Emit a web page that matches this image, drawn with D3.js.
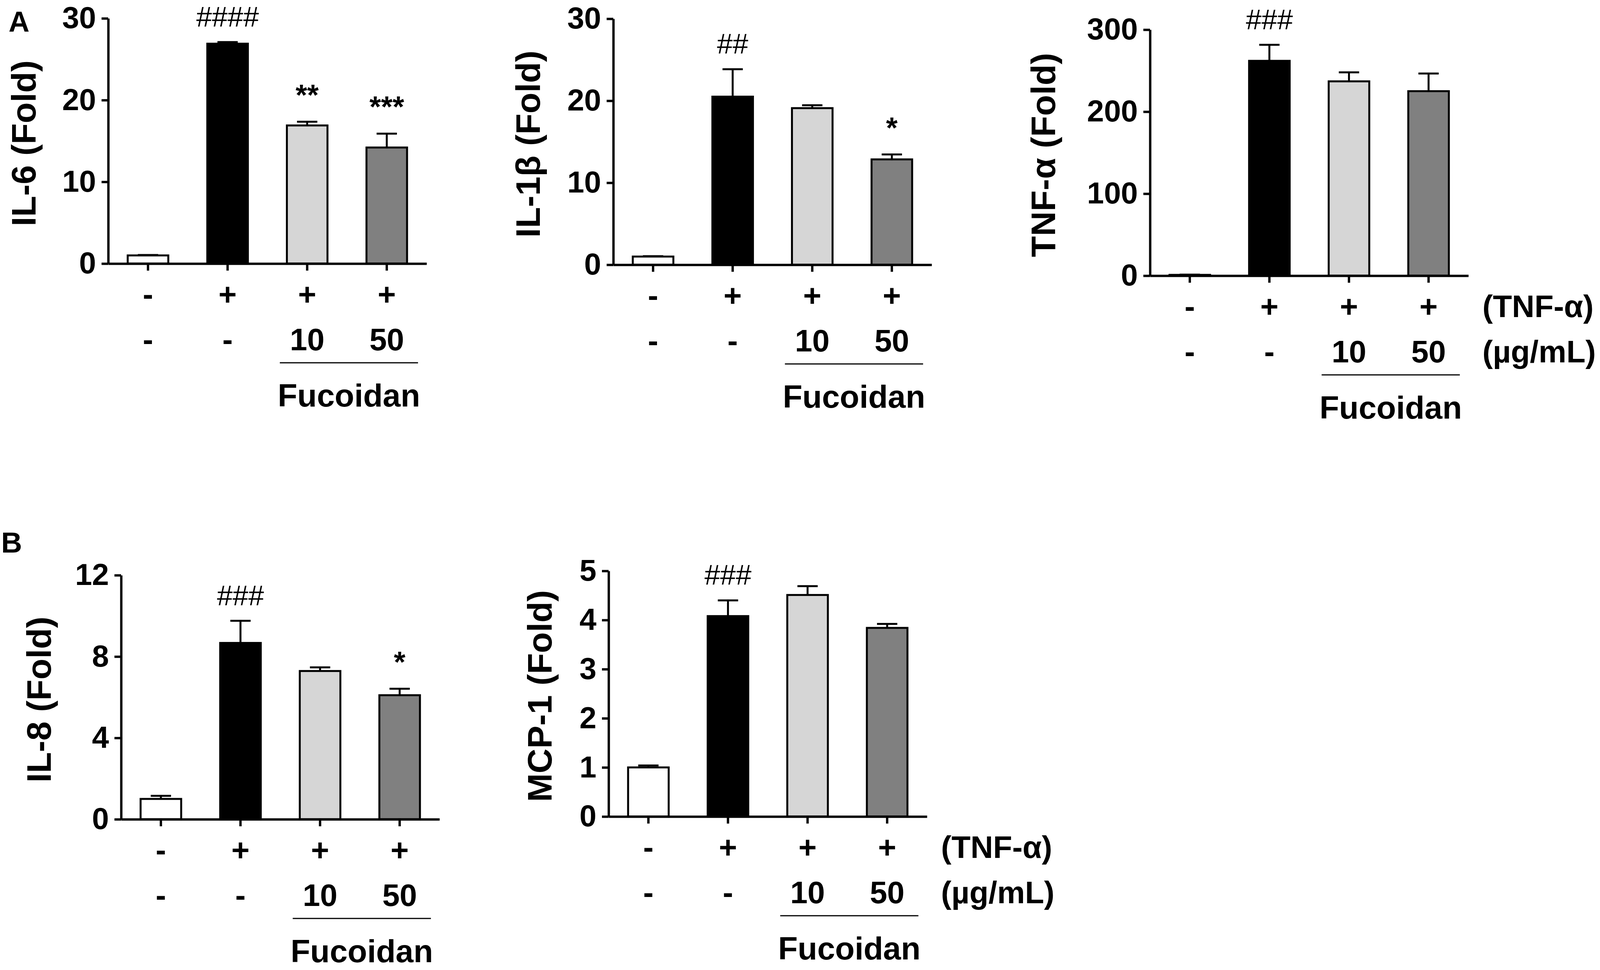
<!DOCTYPE html>
<html>
<head>
<meta charset="utf-8">
<script src="https://cdn.jsdelivr.net/npm/d3@7"></script>
<style>
  body { margin: 0; background: #fff; }
  svg { display: block; }
  text { font-family: "Liberation Sans", Arial, sans-serif; }
</style>
</head>
<body>
<div id="chart"></div>
<script>
// groups on the x axis
var groups = ["ctrl", "tnf", "fuco10", "fuco50"];
var row1Labels = ["-", "+", "+", "+"];
var row2Labels = ["-", "-", "10", "50"];

// mean and upper error (SEM)
var il6Mean = [1.0, 26.9, 16.9, 14.2];
var il6Err  = [0.05, 0.2, 0.45, 1.7];
var il6Sig  = ["", "####", "**", "***"];

var il1bMean = [1.0, 20.5, 19.1, 12.85];
var il1bErr  = [0.05, 3.35, 0.35, 0.6];
var il1bSig  = ["", "##", "", "*"];

var tnfMean = [1.0, 262, 237, 225];
var tnfErr  = [0.3, 19.5, 11, 21.5];
var tnfSig  = ["", "###", "", ""];

var il8Mean = [1.0, 8.67, 7.29, 6.1];
var il8Err  = [0.15, 1.09, 0.18, 0.32];
var il8Sig  = ["", "###", "", "*"];

var mcp1Mean = [1.0, 4.08, 4.51, 3.84];
var mcp1Err  = [0.04, 0.32, 0.18, 0.08];
var mcp1Sig  = ["", "###", "", ""];

var ticks30  = [0, 10, 20, 30];
var ticks300 = [0, 100, 200, 300];
var ticks12  = [0, 4, 8, 12];
var ticks5   = [0, 1, 2, 3, 4, 5];

var fills = ["#ffffff", "#000000", "#d6d6d6", "#808080"];

// layout of each panel (pixels)
var panels = [
  {title: "IL-6 (Fold)",  mean: il6Mean,  err: il6Err,  sig: il6Sig,  ticks: ticks30,
   x0: 277, y0: 675, yTop: 47, labelX: 59, units: false},
  {title: "IL-1\u03b2 (Fold)", mean: il1bMean, err: il1bErr, sig: il1bSig, ticks: ticks30,
   x0: 1570, y0: 678, yTop: 48, labelX: 1350, units: false},
  {title: "TNF-\u03b1 (Fold)", mean: tnfMean, err: tnfErr, sig: tnfSig, ticks: ticks300,
   x0: 2944, y0: 706, yTop: 76, labelX: 2669, units: true},
  {title: "IL-8 (Fold)",  mean: il8Mean,  err: il8Err,  sig: il8Sig,  ticks: ticks12,
   x0: 310, y0: 2098, yTop: 1473, labelX: 98, units: false},
  {title: "MCP-1 (Fold)", mean: mcp1Mean, err: mcp1Err, sig: mcp1Sig, ticks: ticks5,
   x0: 1558, y0: 2091, yTop: 1462, labelX: 1380, units: true}
];

var W = 4106, H = 2484, plotW = 815;
var bold = "bold";

var svg = d3.select("#chart").append("svg").attr("width", W).attr("height", H);
svg.append("rect").attr("width", W).attr("height", H).attr("fill", "#fff");

// panel letters
svg.append("text").attr("x", 22).attr("y", 81).attr("font-size", 74).attr("font-weight", bold).text("A");
svg.append("text").attr("x", 3).attr("y", 1415).attr("font-size", 74).attr("font-weight", bold).text("B");

panels.forEach(function(p) {
  var g = svg.append("g");
  var yMax = p.ticks[p.ticks.length - 1];
  var y = d3.scaleLinear().domain([0, yMax]).range([p.y0, p.yTop]);
  var x = d3.scaleBand().domain(groups).range([p.x0, p.x0 + plotW])
            .paddingInner(0.49).paddingOuter(0.245);
  var bw = x.bandwidth();
  var data = groups.map(function(k, i) {
    return {key: k, mean: p.mean[i], err: p.err[i], sig: p.sig[i], fill: fills[i],
            r1: row1Labels[i], r2: row2Labels[i]};
  });

  // bars
  g.selectAll("rect.bar").data(data).enter().append("rect")
    .attr("class", "bar")
    .attr("x", function(d) { return x(d.key); })
    .attr("y", function(d) { return y(d.mean); })
    .attr("width", bw)
    .attr("height", function(d) { return p.y0 - y(d.mean); })
    .attr("fill", function(d) { return d.fill; })
    .attr("stroke", "#000").attr("stroke-width", 5);

  // error bars (upper only)
  var eb = g.selectAll("g.err").data(data).enter().append("g").attr("class", "err");
  eb.append("line")
    .attr("x1", function(d) { return x(d.key) + bw / 2; })
    .attr("x2", function(d) { return x(d.key) + bw / 2; })
    .attr("y1", function(d) { return y(d.mean); })
    .attr("y2", function(d) { return y(d.mean + d.err); })
    .attr("stroke", "#000").attr("stroke-width", 5);
  eb.append("line")
    .attr("x1", function(d) { return x(d.key) + bw / 2 - 26; })
    .attr("x2", function(d) { return x(d.key) + bw / 2 + 26; })
    .attr("y1", function(d) { return y(d.mean + d.err); })
    .attr("y2", function(d) { return y(d.mean + d.err); })
    .attr("stroke", "#000").attr("stroke-width", 5);

  // significance marks
  g.selectAll("text.sig").data(data.filter(function(d) { return d.sig !== ""; })).enter()
    .append("text").attr("class", "sig")
    .attr("x", function(d) { return x(d.key) + bw / 2; })
    .attr("y", function(d) { return y(d.mean + d.err) - (d.sig.charAt(0) === "#" ? 40 : 43); })
    .attr("text-anchor", "middle")
    .attr("font-size", function(d) { return d.sig.charAt(0) === "#" ? 72 : 76; })
    .attr("font-weight", function(d) { return d.sig.charAt(0) === "#" ? "normal" : bold; })
    .text(function(d) { return d.sig; });

  // y axis
  var yAxis = g.append("g").attr("transform", "translate(" + p.x0 + ",0)")
    .call(d3.axisLeft(y).tickValues(p.ticks).tickFormat(d3.format("d"))
      .tickSize(17).tickSizeOuter(0).tickPadding(14));
  // x axis (ticks only)
  var xAxis = g.append("g").attr("transform", "translate(0," + p.y0 + ")")
    .call(d3.axisBottom(x).tickSize(18).tickSizeOuter(0).tickFormat(function() { return ""; }));
  [yAxis, xAxis].forEach(function(a) {
    a.selectAll("path, line").attr("stroke", "#000").attr("stroke-width", 6);
  });
  yAxis.selectAll("text").attr("font-size", 78).attr("font-weight", bold)
    .attr("fill", "#000").attr("font-family", "Liberation Sans, Arial, sans-serif");

  // y label
  g.append("text")
    .attr("transform", "translate(" + p.labelX + "," + ((p.y0 + p.yTop) / 2 + 6) + ") rotate(-90)")
    .attr("text-anchor", "middle").attr("dy", "0.36em")
    .attr("font-size", 88).attr("font-weight", bold)
    .text(p.title);

  // treatment rows
  g.selectAll("text.r1").data(data).enter().append("text").attr("class", "r1")
    .attr("x", function(d) { return x(d.key) + bw / 2; })
    .attr("y", p.y0 + 106)
    .attr("text-anchor", "middle").attr("font-size", 80).attr("font-weight", bold)
    .text(function(d) { return d.r1; });
  g.selectAll("text.r2").data(data).enter().append("text").attr("class", "r2")
    .attr("x", function(d) { return x(d.key) + bw / 2; })
    .attr("y", p.y0 + 222)
    .attr("text-anchor", "middle").attr("font-size", 80).attr("font-weight", bold)
    .text(function(d) { return d.r2; });

  if (p.units) {
    g.append("text").attr("x", p.x0 + plotW + 36).attr("y", p.y0 + 106)
      .attr("font-size", 80).attr("font-weight", bold).text("(TNF-\u03b1)");
    g.append("text").attr("x", p.x0 + plotW + 36).attr("y", p.y0 + 222)
      .attr("font-size", 80).attr("font-weight", bold).text("(\u00b5g/mL)");
  }

  // Fucoidan bracket
  var ux1 = x("fuco10") + bw / 2 - 70, ux2 = x("fuco50") + bw / 2 + 80;
  g.append("line").attr("x1", ux1).attr("x2", ux2)
    .attr("y1", p.y0 + 254).attr("y2", p.y0 + 254)
    .attr("stroke", "#000").attr("stroke-width", 3);
  g.append("text").attr("x", (ux1 + ux2) / 2).attr("y", p.y0 + 366)
    .attr("text-anchor", "middle").attr("font-size", 82).attr("font-weight", bold)
    .text("Fucoidan");
});
</script>
</body>
</html>
